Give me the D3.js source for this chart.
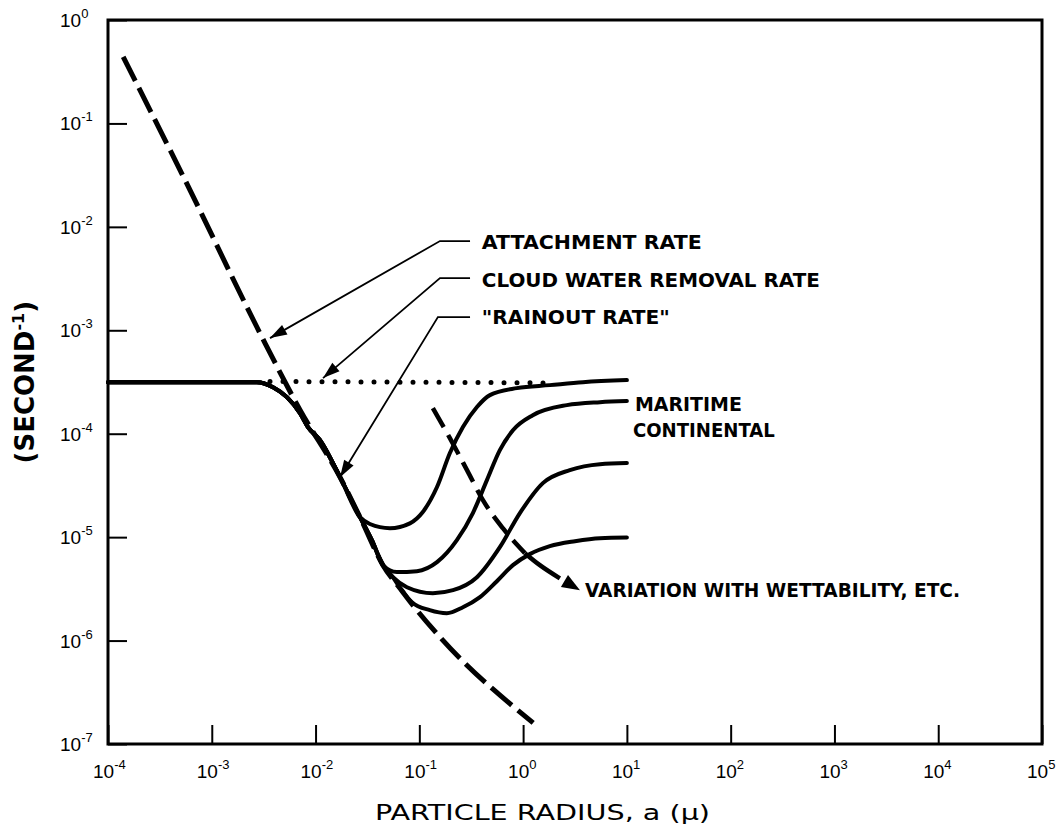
<!DOCTYPE html>
<html>
<head>
<meta charset="utf-8">
<script src="https://cdnjs.cloudflare.com/ajax/libs/d3/7.8.5/d3.min.js"></script>
<style>
  body { margin: 0; background: #fff; }
  text { fill: #000; }
</style>
</head>
<body>
<div id="chart"></div>
<script>
// decades on each axis (exponents of ten)
const xExp = [-4, -3, -2, -1, 0, 1, 2, 3, 4, 5];
const yExp = [0, -1, -2, -3, -4, -5, -6, -7];

// "rainout rate" common part: plateau then fall (radius in micron, rate in 1/s)
const trunkR = [1e-4, 1e-3, 2.72e-3, 3.89e-3, 5.30e-3, 7.08e-3, 8.45e-3, 0.0110, 0.0172, 0.0268];
const trunkK = [3.15e-4, 3.15e-4, 3.15e-4, 2.82e-4, 2.26e-4, 1.58e-4, 1.16e-4, 8.7e-5, 3.8e-5, 1.56e-5];

// the four branches
const c1R = [0.0334, 0.0521, 0.0811, 0.108, 0.148, 0.197, 0.263, 0.359, 0.479, 0.871, 1.81, 3.77, 10];
const c1K = [1.34e-5, 1.22e-5, 1.36e-5, 1.75e-5, 3.05e-5, 6.5e-5, 1.16e-4, 1.81e-4, 2.36e-4, 2.76e-4, 2.95e-4, 3.15e-4, 3.3e-4];

const c2R = [0.0349, 0.0446, 0.0608, 0.0948, 0.148, 0.230, 0.328, 0.448, 0.597, 0.798, 1.24, 2.64, 5.50, 10];
const c2K = [9.35e-6, 5.36e-6, 4.59e-6, 4.69e-6, 5.73e-6, 9.35e-6, 1.71e-5, 3.56e-5, 6.94e-5, 1.08e-4, 1.51e-4, 1.89e-4, 2.02e-4, 2.07e-4];

const c3R = [0.0349, 0.0446, 0.0557, 0.0760, 0.135, 0.211, 0.359, 0.597, 0.931, 1.55, 2.82, 5.50, 10];
const c3K = [9.35e-6, 5.36e-6, 4.10e-6, 3.28e-6, 2.87e-6, 3.07e-6, 4.10e-6, 8.0e-6, 1.71e-5, 3.33e-5, 4.45e-5, 5.08e-5, 5.2e-5];

const c4R = [0.0349, 0.0446, 0.0557, 0.0695, 0.0849, 0.126, 0.184, 0.263, 0.384, 0.559, 0.798, 1.16, 1.81, 3.16, 5.50, 10];
const c4K = [9.35e-6, 5.36e-6, 4.10e-6, 2.94e-6, 2.35e-6, 1.97e-6, 1.84e-6, 2.10e-6, 2.63e-6, 3.75e-6, 5.36e-6, 6.85e-6, 8.18e-6, 9.14e-6, 9.77e-6, 9.9e-6];

// attachment rate (dashed)
const attR = [1.4e-4, 5.52e-4, 2.91e-3, 7.08e-3, 0.0172, 0.0268, 0.0446, 0.0695, 0.0867, 0.158, 1.25];
const attK = [0.44, 2.84e-2, 9.4e-4, 1.7e-4, 3.8e-5, 1.56e-5, 5.36e-6, 2.94e-6, 2.2e-6, 1.08e-6, 1.6e-7];

// cloud water removal rate (dotted)
const dotR = [3.64e-3, 1.6];
const dotK = [3.2e-4, 3.1e-4];

// variation with wettability (dashed, ends in arrow)
const wetR = [0.135, 0.197, 0.288, 0.410, 0.638, 1.04, 1.45, 2.26, 3.53];
const wetK = [1.77e-4, 9.06e-5, 4.45e-5, 2.28e-5, 1.22e-5, 7.0e-6, 5.36e-6, 4.0e-6, 3.07e-6];

// call-outs: text anchor, elbow, arrow tip
const noteText = ["ATTACHMENT RATE", "CLOUD WATER REMOVAL RATE", "\"RAINOUT RATE\""];
const noteR = [0.40, 0.40, 0.40];
const noteK = [6.1e-3, 2.62e-3, 1.15e-3];
const elbowR = [0.158, 0.158, 0.151];
const elbowK = [7.29e-3, 3.2e-3, 1.34e-3];
const leadR = 0.308;
const tipR = [3.64e-3, 1.18e-2, 1.72e-2];
const tipK = [8.4e-4, 3.45e-4, 3.8e-5];

let width = 1058;
let height = 835;
let margin = {left: 108, right: 16, top: 20, bottom: 91};

const x = d3.scaleLog().domain([1e-4, 1e5]).range([margin.left, width - margin.right]);
const y = d3.scaleLog().domain([1e-7, 1]).range([height - margin.bottom, margin.top]);

const svg = d3.select("#chart").append("svg")
    .attr("width", width)
    .attr("height", height)
    .style("display", "block");

const zip = (r, k) => r.map((d, i) => [d, k[i]]);

const line = d3.line()
    .x(d => x(d[0]))
    .y(d => y(d[1]))
    .curve(d3.curveMonotoneX);

// axes: inward ticks only, labels drawn by hand for the superscripts
svg.append("g")
    .attr("transform", `translate(0,${y.range()[0]})`)
    .call(d3.axisBottom(x).tickValues(xExp.map(e => Math.pow(10, e))).tickSize(-19).tickFormat(""))
    .call(g => g.select(".domain").remove())
    .call(g => g.selectAll(".tick line").attr("stroke", "#000").attr("stroke-width", 2));

svg.append("g")
    .attr("transform", `translate(${x.range()[0]},0)`)
    .call(d3.axisLeft(y).tickValues(yExp.map(e => Math.pow(10, e))).tickSize(-19).tickFormat(""))
    .call(g => g.select(".domain").remove())
    .call(g => g.selectAll(".tick line").attr("stroke", "#000").attr("stroke-width", 2));

svg.append("rect")
    .attr("x", x.range()[0])
    .attr("y", y.range()[1])
    .attr("width", x.range()[1] - x.range()[0])
    .attr("height", y.range()[0] - y.range()[1])
    .attr("fill", "none")
    .attr("stroke", "#000")
    .attr("stroke-width", 3);

// tick labels
const xLab = svg.append("g")
    .style("font-family", "'Liberation Sans', Arial, sans-serif")
    .selectAll("text")
    .data(xExp)
    .join("text")
    .attr("x", d => x(Math.pow(10, d)) - 15)
    .attr("y", y.range()[0] + 34)
    .style("font-size", "19px");
xLab.append("tspan").text("10");
xLab.append("tspan").attr("dy", -9).style("font-size", "13px").text(d => d);

const yLab = svg.append("g")
    .style("font-family", "'Liberation Sans', Arial, sans-serif")
    .selectAll("text")
    .data(yExp)
    .join("text")
    .attr("x", 60)
    .attr("y", d => y(Math.pow(10, d)) + 7)
    .style("font-size", "19px");
yLab.append("tspan").text("10");
yLab.append("tspan").attr("dy", -9).style("font-size", "13px").text(d => d);

// axis titles
svg.append("text")
    .attr("x", 375)
    .attr("y", 820)
    .attr("textLength", 335)
    .attr("lengthAdjust", "spacingAndGlyphs")
    .style("font-family", "'DejaVu Sans', sans-serif")
    .style("font-size", "21px")
    .text("PARTICLE RADIUS, a (\u03bc)");

const yTitle = svg.append("text")
    .attr("transform", `translate(34,${y(3.15e-4)}) rotate(-90)`)
    .attr("text-anchor", "middle")
    .style("font-family", "'DejaVu Sans', sans-serif")
    .style("font-weight", "bold")
    .style("font-size", "26px");
yTitle.append("tspan").text("(SECOND");
yTitle.append("tspan").attr("dy", -10).style("font-size", "16px").text("-1");
yTitle.append("tspan").attr("dy", 10).text(")");

// curves
svg.append("path")
    .attr("d", line(zip(dotR, dotK)))
    .attr("fill", "none")
    .attr("stroke", "#000")
    .attr("stroke-width", 5)
    .attr("stroke-linecap", "round")
    .attr("stroke-dasharray", "0 13");

svg.append("path")
    .attr("d", line(zip(attR, attK)))
    .attr("fill", "none")
    .attr("stroke", "#000")
    .attr("stroke-width", 5)
    .attr("stroke-dasharray", "27 8");

const wet = zip(wetR, wetK);
svg.append("path")
    .attr("d", line(wet.slice(0, 6)))
    .attr("fill", "none")
    .attr("stroke", "#000")
    .attr("stroke-width", 4.5)
    .attr("stroke-dasharray", "22 9");
svg.append("path")
    .attr("d", line(wet.slice(5, 8)))
    .attr("fill", "none")
    .attr("stroke", "#000")
    .attr("stroke-width", 4.5);

const trunk = zip(trunkR, trunkK);
[[c1R, c1K], [c2R, c2K], [c3R, c3K], [c4R, c4K]].forEach(c => {
    svg.append("path")
        .attr("d", line(trunk.concat(zip(c[0], c[1]))))
        .attr("fill", "none")
        .attr("stroke", "#000")
        .attr("stroke-width", 4)
        .attr("stroke-linecap", "round")
        .attr("stroke-linejoin", "round");
});

function arrowHead(tip, from, len, hw) {
    const dx = tip[0] - from[0], dy = tip[1] - from[1];
    const L = Math.hypot(dx, dy);
    const ux = dx / L, uy = dy / L;
    const bx = tip[0] - ux * len, by = tip[1] - uy * len;
    return [tip, [bx - uy * hw, by + ux * hw], [bx + uy * hw, by - ux * hw]];
}

// arrow at the end of the wettability line
const wTip = [x(wetR[8]), y(wetK[8])];
const wFrom = [x(wetR[7]), y(wetK[7])];
svg.append("path")
    .attr("d", "M" + arrowHead(wTip, wFrom, 18, 7).join("L") + "Z")
    .attr("fill", "#000");

// call-outs
const notes = svg.append("g");
noteText.forEach((t, i) => {
    const tip = [x(tipR[i]), y(tipK[i])];
    const elbow = [x(elbowR[i]), y(elbowK[i])];
    notes.append("path")
        .attr("d", d3.line()([[x(leadR), elbow[1]], elbow, tip]))
        .attr("fill", "none")
        .attr("stroke", "#000")
        .attr("stroke-width", 1.8);
    notes.append("path")
        .attr("d", "M" + arrowHead(tip, elbow, 17, 5.5).join("L") + "Z")
        .attr("fill", "#000");
});

const noteLen = [220, 338, 188];
notes.selectAll("text")
    .data(noteText)
    .join("text")
    .attr("x", (d, i) => x(noteR[i]))
    .attr("y", (d, i) => y(noteK[i]))
    .attr("textLength", (d, i) => noteLen[i])
    .attr("lengthAdjust", "spacingAndGlyphs")
    .style("font-family", "'DejaVu Sans', sans-serif")
    .style("font-weight", "bold")
    .style("font-size", "20px")
    .text(d => d);

svg.append("text")
    .attr("x", x(10) + 8)
    .attr("y", y(c1K[12]) + 31)
    .attr("textLength", 107)
    .attr("lengthAdjust", "spacingAndGlyphs")
    .style("font-family", "'DejaVu Sans', sans-serif")
    .style("font-weight", "bold")
    .style("font-size", "20px")
    .text("MARITIME");

svg.append("text")
    .attr("x", x(10) + 6)
    .attr("y", y(c1K[12]) + 57)
    .attr("textLength", 142)
    .attr("lengthAdjust", "spacingAndGlyphs")
    .style("font-family", "'DejaVu Sans', sans-serif")
    .style("font-weight", "bold")
    .style("font-size", "20px")
    .text("CONTINENTAL");

svg.append("text")
    .attr("x", wTip[0] + 5)
    .attr("y", wTip[1] + 7)
    .attr("textLength", 375)
    .attr("lengthAdjust", "spacingAndGlyphs")
    .style("font-family", "'DejaVu Sans', sans-serif")
    .style("font-weight", "bold")
    .style("font-size", "20px")
    .text("VARIATION WITH WETTABILITY, ETC.");
</script>
</body>
</html>
